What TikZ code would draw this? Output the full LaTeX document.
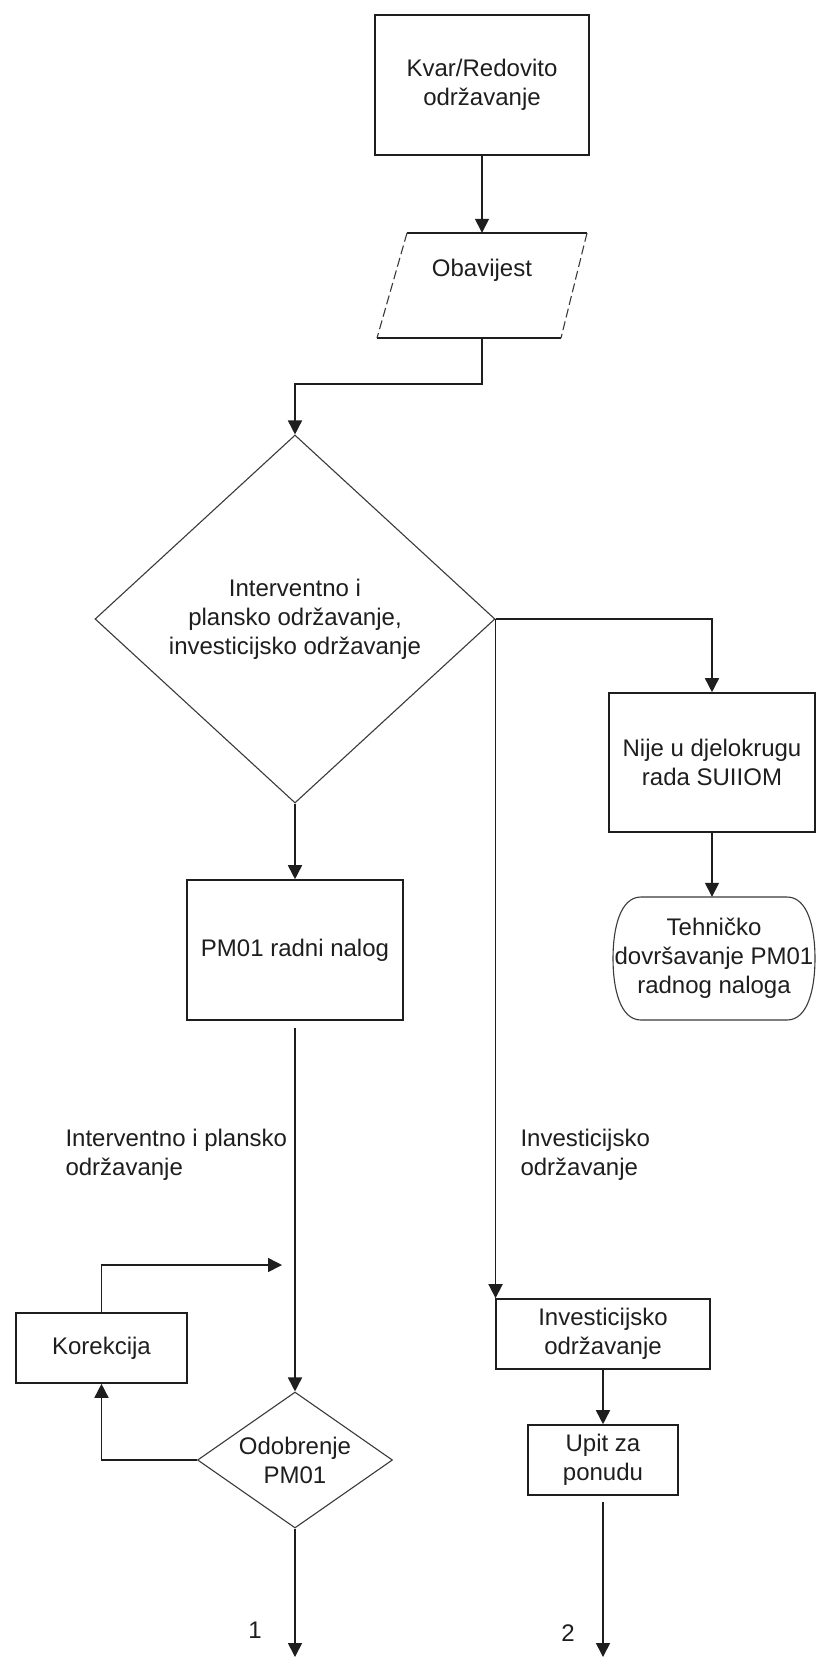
\documentclass[tikz,border=0pt]{standalone}
\usepackage{fontspec}
\setmainfont{Liberation Sans}
\usetikzlibrary{arrows.meta,shapes.geometric,calc}
\definecolor{ink}{HTML}{1E1E1E}
\definecolor{dline}{HTML}{3A3A3A}
\begin{document}
\begin{tikzpicture}[x=1pt,y=-1pt,
  every node/.style={font=\fontsize{24}{29}\selectfont, text=ink, align=center},
  box/.style={draw=ink, line width=1.6pt, rectangle, inner sep=0pt},
  dia/.style={draw=dline, line width=1.1pt, diamond, inner sep=0pt},
  conn/.style={draw=ink, line width=1.6pt},
  arr/.style={conn, -{Triangle[width=14pt,length=14pt]}},
  lbl/.style={align=left, anchor=west},
  thinline/.style={draw=dline, line width=1.1pt}
]
\useasboundingbox (0,0) rectangle (817,1657);
\fill[white] (0,0) rectangle (817,1657);

% nodes
\node[box, minimum width=214pt, minimum height=140pt] (kvar) at (482,85) {Kvar/Redovito\\održavanje};
\node[minimum width=210pt, minimum height=105pt, inner sep=0pt] (ob) at (482,285.5) {};
\node (obt) at (482,270) {Obavijest};
\node[dia, minimum width=400pt, minimum height=368pt, aspect=1.087] (d1) at (295,619) {Interventno i\\plansko održavanje,\\investicijsko održavanje};
\node[box, minimum width=206pt, minimum height=139pt] (nije) at (712,762.5) {Nije u djelokrugu\\rada SUIIOM};
\node[minimum width=202pt, minimum height=123pt, inner sep=0pt] (term) at (714,958.5) {Tehničko\\dovršavanje PM01\\radnog naloga};
\node[box, minimum width=216pt, minimum height=140pt] (pm) at (295,950) {PM01 radni nalog};
\node[lbl] (lab1) at (62,1155) {Interventno i plansko\\održavanje};
\node[lbl] (lab2) at (517,1155) {Investicijsko\\održavanje};
\node[box, minimum width=171pt, minimum height=70pt] (kor) at (101.5,1348) {Korekcija};
\node[dia, minimum width=195pt, minimum height=136pt, aspect=1.43] (d2) at (295,1460) {Odobrenje\\PM01};
\node[box, minimum width=214pt, minimum height=70pt] (inv) at (603,1334) {Investicijsko\\održavanje};
\node[box, minimum width=150pt, minimum height=70pt] (upit) at (603,1460) {Upit za\\ponudu};
\coordinate (back) at (282,1265);
\coordinate (end1) at (295,1657);
\coordinate (end2) at (603,1657);
\node (n1) at (255,1630) {1};
\node (n2) at (568,1633) {2};

% input/output parallelogram
\begin{scope}[shift={(ob.center)}]
  \draw[conn] (-75,-52.5) -- (105,-52.5);
  \draw[conn] (-105,52.5) -- (79,52.5);
  \draw[thinline, dash pattern=on 9pt off 4pt] (-75,-52.5) -- (-105,52.5);
  \draw[thinline, dash pattern=on 9pt off 4pt] (105,-52.5) -- (79,52.5);
\end{scope}

% terminator outline
\begin{scope}[shift={(term.center)}]
  \draw[thinline] (-73,-61.5) -- (73,-61.5)
    .. controls (94,-61.5) and (101,-30) .. (101,0)
    .. controls (101,30) and (94,61.5) .. (73,61.5) -- (-73,61.5)
    .. controls (-94,61.5) and (-101,30) .. (-101,0)
    .. controls (-101,-30) and (-94,-61.5) .. (-73,-61.5) -- cycle;
\end{scope}

% connectors
\draw[arr] (kvar.south) -- (kvar.south |- ob.north);
\draw[arr] (ob.south) -- ++(0,46) -| (d1.north);
\draw[arr] (d1.east) -| (nije.north);
\draw[arr] (nije.south) -- (nije.south |- term.north);
\draw[arr] (d1.east) -- (d1.east |- inv.north);
\draw[arr] (d1.south) -- (pm.north);
\draw[arr, shorten <=7pt] (pm.south) -- (d2.north);
\draw[arr] (kor.north) |- (back);
\draw[arr] (d2.west) -| (kor.south);
\draw[arr] (d2.south) -- (end1);
\draw[arr] (inv.south) -- (inv.south |- upit.north);
\draw[arr, shorten <=6pt] (upit.south) -- (end2);
\end{tikzpicture}
\end{document}
